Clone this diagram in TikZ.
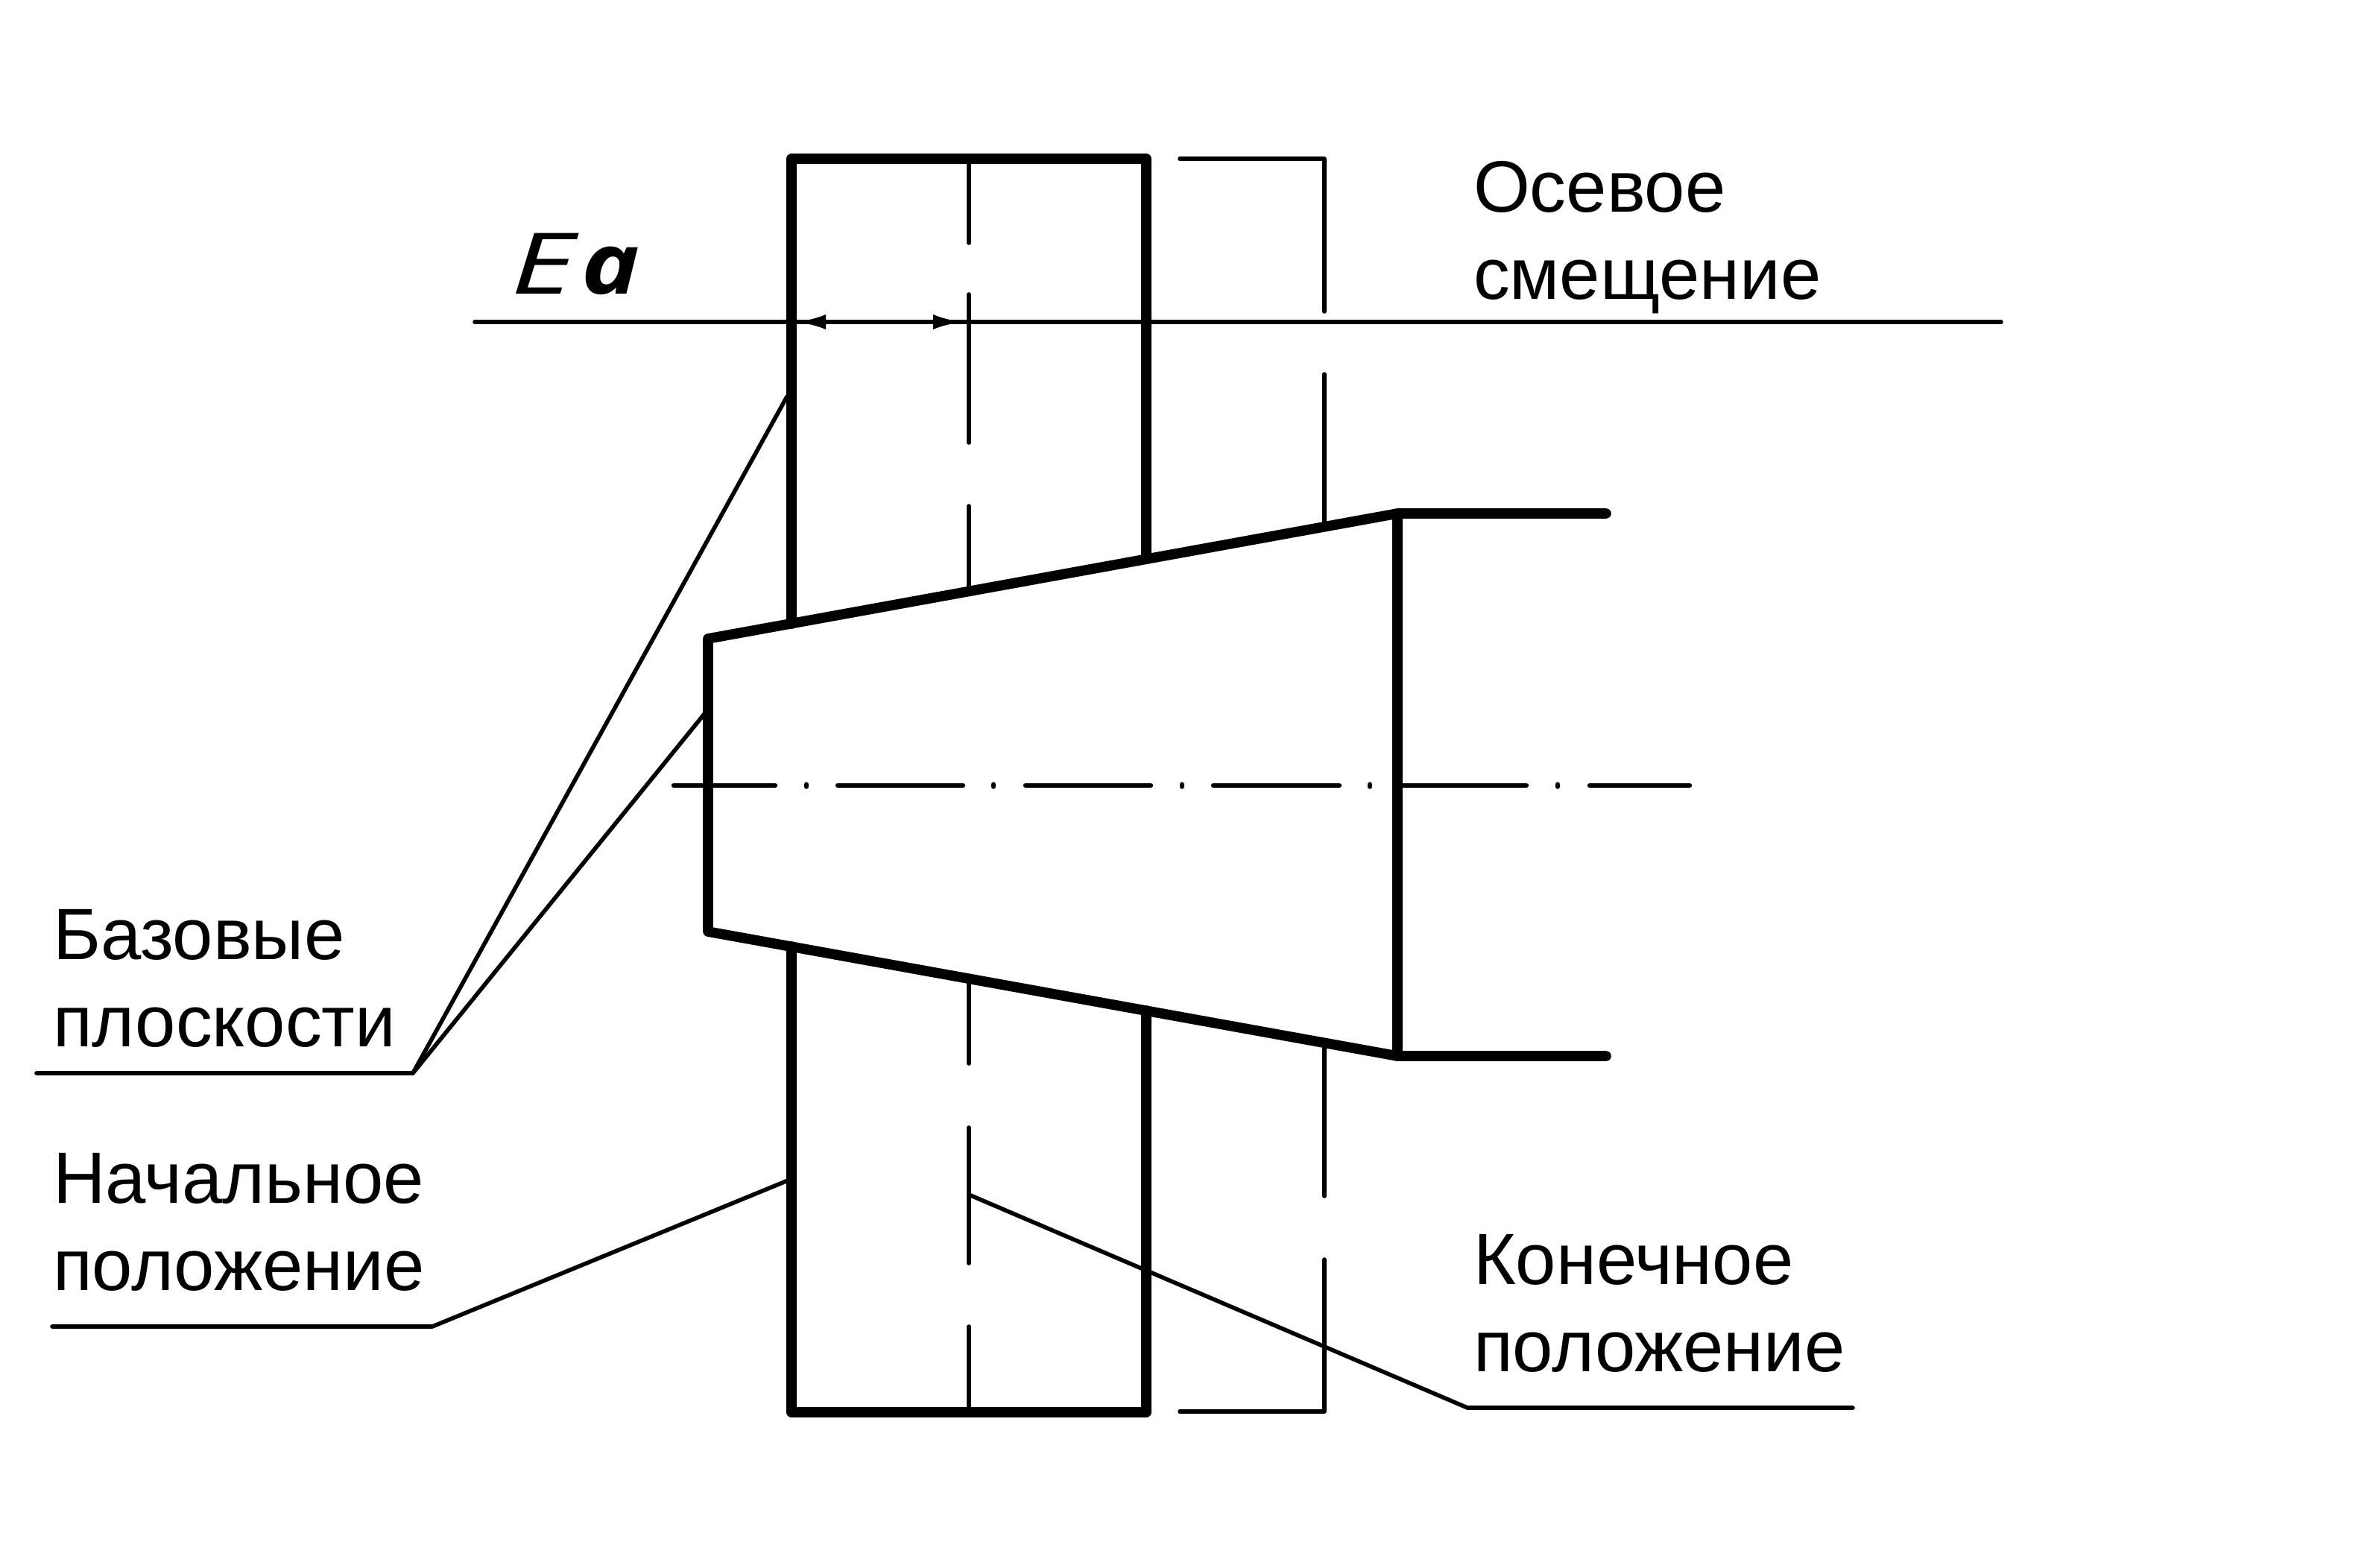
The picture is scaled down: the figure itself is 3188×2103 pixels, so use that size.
\documentclass[tikz,border=0pt]{standalone}
\usepackage{fontspec}
\setmainfont{Liberation Sans}
\newfontfamily\eafont[FakeStretch=1.45]{Open Sans}
\newfontfamily\aafont[FakeStretch=1.15]{Open Sans}
\usetikzlibrary{arrows.meta}
\tikzset{
  thickline/.style={line width=3.4pt,line cap=round,line join=round},
  thinline/.style={line width=1.4pt,line cap=round,line join=round},
  axisline/.style={line width=1.6pt,line cap=round},
  lbl/.style={inner sep=0pt,outer sep=0pt,anchor=base west,align=left,font=\fontsize{24.4}{29.25}\selectfont},
}
\begin{document}
\begin{tikzpicture}[x=0.25pt,y=-0.25pt]
\fill[white,use as bounding box] (0,0) rectangle (3188,2103);

% coordinates
\coordinate (rTL) at (1062,213);
\coordinate (rTR) at (1538,213);
\coordinate (rBL) at (1062,1895);
\coordinate (rBR) at (1538,1895);
\coordinate (cA) at (950,857);
\coordinate (cB) at (1875,689);
\coordinate (cC) at (1875,1417);
\coordinate (cD) at (950,1250);
\coordinate (sT) at (2155,689);
\coordinate (sB) at (2155,1417);

% centre line dashes (vertical, initial-position axis)
\draw[thinline] (1300,213) -- (1300,326);
\draw[thinline] (1300,395) -- (1300,594);
\draw[thinline] (1300,679) -- (1300,788);
\draw[thinline] (1300,1313) -- (1300,1427);
\draw[thinline] (1300,1513) -- (1300,1695);
\draw[thinline] (1300,1780) -- (1300,1895);

% final position (thin)
\draw[thinline] (1583,213) -- (1777,213) -- (1777,418);
\draw[thinline] (1777,502) -- (1777,703);
\draw[thinline] (1777,1405) -- (1777,1605);
\draw[thinline] (1777,1690) -- (1777,1894) -- (1583,1894);

% initial position (thick)
\draw[thickline] (1062,837) -- (rTL) -- (rTR) -- (1538,750);
\draw[thickline] (1062,1270) -- (rBL) -- (rBR) -- (1538,1356);

% cone
\draw[thickline] (sT) -- (cB) -- (cA) -- (cD) -- (cC) -- (sB);
\draw[thickline] (cB) -- (cC);

% axis
\draw[axisline] (904,1054) -- (1040,1054);
\draw[axisline] (1082,1052.5) -- (1082,1055.5);
\draw[axisline] (1124,1054) -- (1292,1054);
\draw[axisline] (1333,1052.5) -- (1333,1055.5);
\draw[axisline] (1376,1054) -- (1544,1054);
\draw[axisline] (1586,1052.5) -- (1586,1055.5);
\draw[axisline] (1628,1054) -- (1797,1054);
\draw[axisline] (1838,1052.5) -- (1838,1055.5);
\draw[axisline] (1880,1054) -- (2048,1054);
\draw[axisline] (2090,1052.5) -- (2090,1055.5);
\draw[axisline] (2133,1054) -- (2267,1054);

% dimension line
\coordinate (dL) at (637,432);
\coordinate (dR) at (2685,432);
\coordinate (aL) at (1068,432);
\coordinate (aR) at (1292,432);
\draw[thinline] (dL) -- (dR);
\draw[thinline,{Latex[length=10pt,width=5pt]}-{Latex[length=10pt,width=5pt]}] (aL) -- (aR);

% leaders
\coordinate (bA) at (554,1440);
\coordinate (bS) at (49,1440);
\coordinate (bP1) at (1056,532);
\coordinate (bP2) at (945,958);
\draw[thinline] (bS) -- (bA) -- (bP1);
\draw[thinline] (bA) -- (bP2);

\coordinate (nS) at (70,1780);
\coordinate (nK) at (580,1780);
\coordinate (nP) at (1057,1584);
\draw[thinline] (nS) -- (nK) -- (nP);

\coordinate (kS) at (2486,1889);
\coordinate (kK) at (1969,1889);
\coordinate (kP) at (1300,1603);
\draw[thinline] (kS) -- (kK) -- (kP);

% labels
\node[lbl] (osev) at (1977,401) {Осевое\\смещение};
\node[lbl] (baz) at (71,1404) {Базовые\\плоскости};
\node[lbl] (nach) at (71,1731) {Начальное\\положение};
\node[lbl] (kon) at (1977,1840) {Конечное\\положение};
\node[inner sep=0pt,anchor=base west] (ea) at (685,394) {\fontsize{28.5}{30}\selectfont{\eafont\itshape E}\kern2.3pt{\aafont\itshape\bfseries a}};
\end{tikzpicture}
\end{document}
